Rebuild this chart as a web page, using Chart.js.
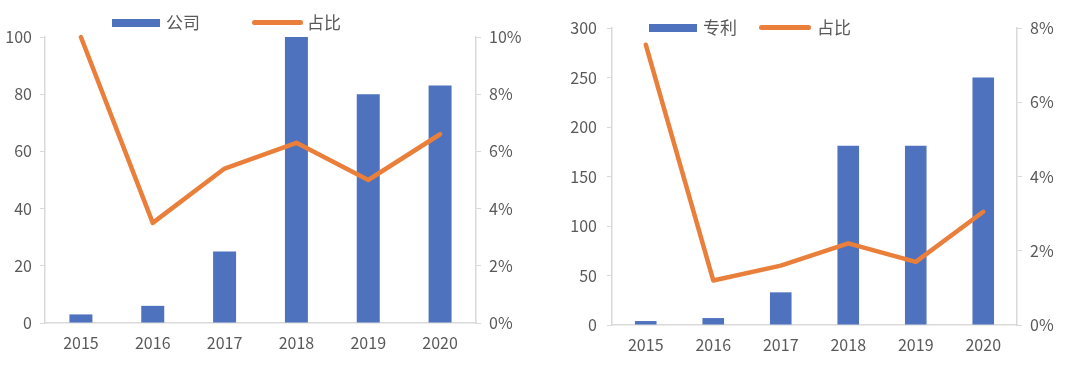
<!DOCTYPE html>
<html>
<head>
<meta charset="utf-8">
<script src="https://cdn.jsdelivr.net/npm/chart.js@4.4.1/dist/chart.umd.min.js"></script>
<style>
  body { margin: 0; background: #fff; }
  .wrap { position: relative; width: 1080px; height: 368px; overflow: hidden; font-family: "Noto Sans CJK SC", "Noto Sans", sans-serif; }
  canvas { position: absolute; top: 0; }
  .leg { position: absolute; font-size: 17px; color: #595959; line-height: 20px; white-space: nowrap; }
  .sw { position: absolute; }
</style>
</head>
<body>
<div class="wrap">
  <canvas id="companyChart" width="540" height="368" style="left:0"></canvas>
  <canvas id="patentChart" width="540" height="368" style="left:540px"></canvas>

  <div class="sw" style="left:112px;top:19px;width:48px;height:8px;background:#4E72BE"></div>
  <div class="leg" style="left:166px;top:12px">公司</div>
  <div class="sw" style="left:252px;top:20px;width:51px;height:5px;background:#E97F3A;border-radius:3px"></div>
  <div class="leg" style="left:307px;top:12px">占比</div>

  <div class="sw" style="left:649px;top:24px;width:48px;height:8px;background:#4E72BE"></div>
  <div class="leg" style="left:703px;top:17px">专利</div>
  <div class="sw" style="left:759px;top:25px;width:52px;height:5px;background:#E97F3A;border-radius:3px"></div>
  <div class="leg" style="left:817px;top:17px">占比</div>
</div>
<script>
const years = ['2015', '2016', '2017', '2018', '2019', '2020'];

// left chart: companies
const companyCounts = [3, 6, 25, 100, 80, 83];
const companyShare = [10, 3.5, 5.4, 6.3, 5.0, 6.6];
const companyAxisMax = 100;
const companyShareMax = 10;

// right chart: patents
const patentCounts = [4, 7, 33, 181, 181, 250];
const patentShare = [7.55, 1.2, 1.6, 2.2, 1.7, 3.05];
const patentAxisMax = 300;
const patentShareMax = 8;

const blue = '#4E72BE';
const orange = '#E97F3A';
const axisGrey = '#d9d9d9';
const textGrey = '#595959';

Chart.defaults.font.family = '"Noto Sans CJK SC", "Noto Sans", sans-serif';
Chart.defaults.font.size = 16;
Chart.defaults.color = textGrey;

function makeChart(id, barLabel, counts, share, countMax, countStep, shareMax, box) {
    const ctx = document.getElementById(id);
    return new Chart(ctx, {
        type: 'bar',
        data: {
            labels: years,
            datasets: [{
                type: 'line',
                label: '占比',
                data: share,
                yAxisID: 'y1',
                borderColor: orange,
                borderWidth: 4.5,
                borderCapStyle: 'round',
                borderJoinStyle: 'round',
                pointRadius: 0,
                tension: 0,
                clip: false,
                order: 0
            }, {
                label: barLabel,
                data: counts,
                yAxisID: 'y',
                backgroundColor: blue,
                categoryPercentage: 1,
                barPercentage: 0.32,
                order: 1
            }]
        },
        options: {
            responsive: false,
            animation: false,
            layout: { padding: { top: box.top, left: 0, right: 0, bottom: 0 } },
            plugins: { legend: { display: false }, tooltip: { enabled: false } },
            scales: {
                x: {
                    grid: { drawOnChartArea: false, drawTicks: false, color: axisGrey },
                    border: { color: axisGrey, width: 1.5 },
                    ticks: { padding: 10, color: textGrey },
                    afterFit: s => { s.height = box.bottom; }
                },
                y: {
                    position: 'left',
                    min: 0,
                    max: countMax,
                    grid: { drawOnChartArea: false, tickLength: 5, color: axisGrey },
                    border: { color: axisGrey, width: 1.5 },
                    ticks: { stepSize: countStep, padding: box.lpad, color: textGrey },
                    afterFit: s => { s.width = box.left; }
                },
                y1: {
                    position: 'right',
                    min: 0,
                    max: shareMax,
                    grid: { drawOnChartArea: false, tickLength: 5, color: axisGrey },
                    border: { color: axisGrey, width: 1.5 },
                    ticks: { stepSize: 2, padding: 8, color: textGrey, callback: v => v + '%' },
                    afterFit: s => { s.width = box.right; }
                }
            }
        }
    });
}

const companyChart = makeChart('companyChart', '公司', companyCounts, companyShare,
    companyAxisMax, 20, companyShareMax, { top: 37, bottom: 45, left: 45, right: 64, lpad: 8 });

const patentChart = makeChart('patentChart', '专利', patentCounts, patentShare,
    patentAxisMax, 50, patentShareMax, { top: 28, bottom: 43, left: 72, right: 63, lpad: 10 });
</script>
</body>
</html>
